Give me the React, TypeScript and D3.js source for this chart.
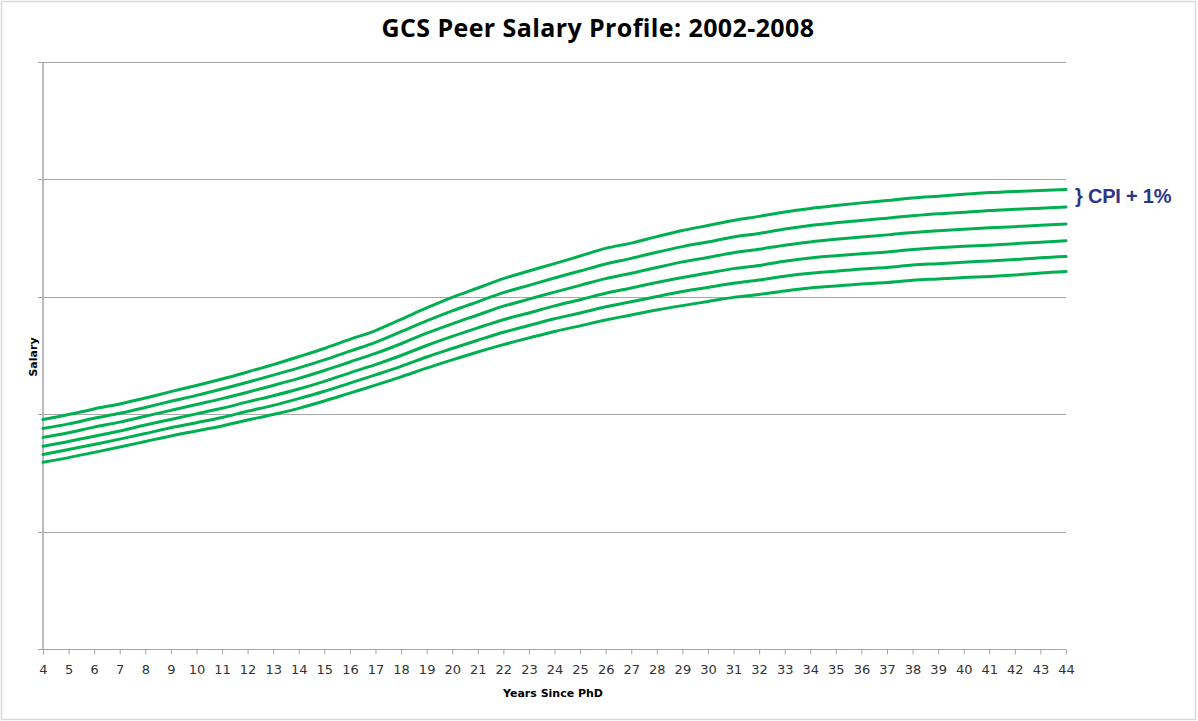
import React, { useEffect, useRef } from "react";
import { select, scaleLinear, axisBottom, line, curveMonotoneX } from "d3";

const width = 1198;
const height = 721;
const margin = { top: 62, right: 132, bottom: 72, left: 43 };

const title = "GCS Peer Salary Profile: 2002-2008";
const years = [
  4, 5, 6, 7, 8, 9, 10, 11, 12, 13, 14, 15, 16, 17, 18, 19, 20, 21, 22, 23, 24,
  25, 26, 27, 28, 29, 30, 31, 32, 33, 34, 35, 36, 37, 38, 39, 40, 41, 42, 43, 44,
];
// salary in $K, unlabelled axis; gridlines every 40
const yTicks = [0, 40, 80, 120, 160, 200];

// top curve is the "CPI + 1%" profile, the rest step down below it
const line1 = [
  78.2, 79.9, 81.8, 83.5, 85.5, 87.7, 89.8, 92.0, 94.4, 96.9, 99.6, 102.4, 105.5,
  108.5, 112.3, 116.2, 119.8, 123.0, 126.2, 128.8, 131.3, 133.9, 136.5, 138.3,
  140.5, 142.6, 144.3, 146.0, 147.4, 148.9, 150.1, 151.1, 152.0, 152.8, 153.7,
  154.3, 154.9, 155.5, 155.9, 156.2, 156.6,
];
const line2 = [
  75.1, 76.7, 78.6, 80.3, 82.3, 84.4, 86.4, 88.6, 90.9, 93.3, 95.8, 98.5, 101.5,
  104.5, 108.1, 111.8, 115.2, 118.3, 121.4, 123.9, 126.4, 128.8, 131.2, 133.1,
  135.2, 137.1, 138.7, 140.4, 141.6, 143.1, 144.3, 145.2, 146.0, 146.8, 147.6,
  148.3, 148.8, 149.4, 149.8, 150.2, 150.6,
];
const line3 = [
  72.1, 73.7, 75.6, 77.3, 79.3, 81.3, 83.3, 85.3, 87.5, 89.8, 92.2, 94.9, 97.8,
  100.7, 104.0, 107.6, 110.8, 113.8, 116.8, 119.2, 121.6, 123.9, 126.2, 128.0,
  130.0, 131.9, 133.4, 135.0, 136.2, 137.6, 138.7, 139.6, 140.4, 141.1, 141.9,
  142.5, 143.0, 143.5, 143.9, 144.4, 144.8,
];
const line4 = [
  69.1, 70.7, 72.5, 74.3, 76.3, 78.2, 80.1, 82.0, 84.2, 86.3, 88.6, 91.2, 94.1,
  96.9, 100.0, 103.4, 106.5, 109.4, 112.2, 114.5, 116.9, 119.0, 121.2, 123.0,
  124.9, 126.6, 128.1, 129.6, 130.7, 132.1, 133.2, 134.0, 134.7, 135.3, 136.1,
  136.7, 137.2, 137.6, 138.1, 138.6, 139.1,
];
const line5 = [
  66.3, 68.0, 69.7, 71.5, 73.4, 75.4, 77.1, 78.9, 81.0, 83.0, 85.3, 87.8, 90.6,
  93.4, 96.3, 99.5, 102.4, 105.2, 107.9, 110.2, 112.5, 114.5, 116.6, 118.3,
  120.1, 121.8, 123.2, 124.6, 125.7, 127.0, 128.0, 128.7, 129.5, 130.0, 130.8,
  131.3, 131.8, 132.2, 132.7, 133.3, 133.7,
];
const line6 = [
  63.6, 65.2, 67.0, 68.8, 70.7, 72.6, 74.3, 76.0, 78.0, 79.9, 82.0, 84.5, 87.2,
  89.9, 92.7, 95.7, 98.5, 101.2, 103.7, 106.0, 108.2, 110.1, 112.1, 113.8,
  115.5, 117.0, 118.4, 119.8, 120.8, 122.0, 123.0, 123.7, 124.4, 124.9, 125.6,
  126.1, 126.6, 126.9, 127.4, 128.1, 128.6,
];
const series = [line1, line2, line3, line4, line5, line6];

const lineColor = "#00b050";
const gridColor = "#a6a6a6";

const SalaryChart = () => {
  const ref = useRef<SVGSVGElement>(null);

  useEffect(() => {
    const svg = select(ref.current);
    svg.selectAll("*").remove();

    const x = scaleLinear()
      .domain([4, 44])
      .range([margin.left, width - margin.right]);
    const y = scaleLinear()
      .domain([0, 200])
      .range([height - margin.bottom, margin.top]);

    // outer chart border
    svg
      .append("rect")
      .attr("x", 1.5)
      .attr("y", 1.5)
      .attr("width", width - 4)
      .attr("height", height - 3)
      .attr("fill", "#fff")
      .attr("stroke", "#d9d9d9")
      .attr("stroke-width", 1.5);

    svg
      .append("text")
      .attr("x", 598)
      .attr("y", 37)
      .attr("text-anchor", "middle")
      .attr("font-family", "'Open Sans', Lato, sans-serif")
      .attr("font-weight", "bold")
      .attr("font-size", 25)
      .attr("letter-spacing", 0.4)
      .attr("fill", "#000")
      .text(title);

    // gridlines with small stubs left of the axis
    svg
      .append("g")
      .selectAll("line")
      .data(yTicks)
      .join("line")
      .attr("x1", margin.left - 5)
      .attr("x2", width - margin.right)
      .attr("y1", (d) => Math.round(y(d)) + 0.5)
      .attr("y2", (d) => Math.round(y(d)) + 0.5)
      .attr("stroke", gridColor)
      .attr("stroke-width", 1);

    svg
      .append("line")
      .attr("x1", margin.left)
      .attr("x2", margin.left)
      .attr("y1", y(200))
      .attr("y2", y(0))
      .attr("stroke", gridColor)
      .attr("stroke-width", 1.5);

    const xAxis = svg
      .append("g")
      .attr("transform", `translate(0,${Math.round(y(0)) + 0.5})`)
      .call(
        axisBottom(x)
          .tickValues(years)
          .tickSize(5)
          .tickPadding(10)
          .tickFormat((d) => String(d))
      );
    xAxis.select(".domain").remove();
    xAxis.selectAll(".tick line").attr("stroke", gridColor);
    xAxis
      .selectAll(".tick text")
      .attr("fill", "#333")
      .attr("font-family", "'DejaVu Sans', Verdana, sans-serif")
      .attr("font-size", 13);

    const salaryLine = line<number>()
      .x((_, i) => x(years[i]))
      .y((d) => y(d))
      .curve(curveMonotoneX);

    svg
      .append("g")
      .selectAll("path")
      .data(series)
      .join("path")
      .attr("fill", "none")
      .attr("stroke", lineColor)
      .attr("stroke-width", 3)
      .attr("stroke-linejoin", "round")
      .attr("stroke-linecap", "round")
      .attr("d", (d) => salaryLine(d));

    svg
      .append("text")
      .attr("x", 553)
      .attr("y", 697)
      .attr("text-anchor", "middle")
      .attr("font-family", "'DejaVu Sans', Verdana, sans-serif")
      .attr("font-weight", "bold")
      .attr("font-size", 11)
      .attr("fill", "#000")
      .text("Years Since PhD");

    svg
      .append("text")
      .attr("transform", "translate(37,357) rotate(-90)")
      .attr("text-anchor", "middle")
      .attr("font-family", "'DejaVu Sans', Verdana, sans-serif")
      .attr("font-weight", "bold")
      .attr("font-size", 11)
      .attr("fill", "#000")
      .text("Salary");

    svg
      .append("text")
      .attr("x", x(44) + 9)
      .attr("y", y(line1[line1.length - 1]) + 14)
      .attr("font-family", "'Liberation Sans', Arial, sans-serif")
      .attr("font-weight", "bold")
      .attr("font-size", 20)
      .attr("letter-spacing", -0.2)
      .attr("fill", "#2e3586")
      .text("} CPI + 1%");
  }, []);

  return (
    <svg
      ref={ref}
      width={width}
      height={height}
      style={{ position: "absolute", left: 0, top: 0, background: "#fff" }}
    />
  );
};

export default function App() {
  return <SalaryChart />;
}
